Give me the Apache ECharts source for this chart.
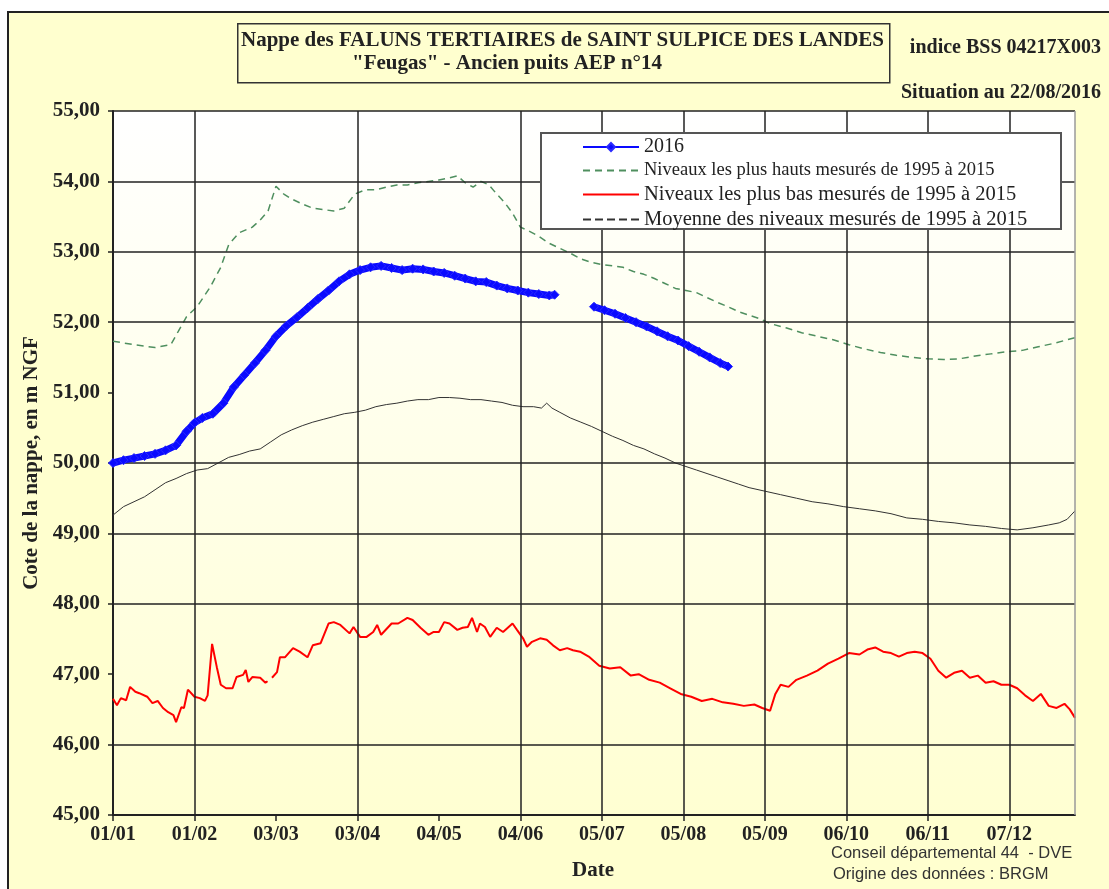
<!DOCTYPE html>
<html>
<head>
    <meta charset="utf-8">
    <title>Nappe des Faluns tertiaires</title>
    <script src="https://cdn.jsdelivr.net/npm/echarts@6/dist/echarts.min.js"></script>
    <style>
        body {
            margin: 0;
            background: #ffffff;
        }

        .frame {
            position: absolute;
            left: 7px;
            top: 11px;
            width: 1120px;
            height: 900px;
            background: #ffffcf;
            border-left: 2px solid #222;
            border-top: 2px solid #222;
        }

        #main {
            position: absolute;
            left: 0;
            top: 0;
            width: 1109px;
            height: 889px;
        }
    </style>
</head>
<body>
    <div class="frame"></div>
    <div id="main"></div>
<script type="text/javascript">
    // jours depuis le 01/01/2016 et cotes
    var days2016 = [0, 4, 8, 12, 16, 20, 24, 28, 31, 34, 38, 42, 46, 50, 54, 58, 62, 66, 70, 74, 78, 82, 86, 90, 94, 98, 102, 106, 110, 114, 118, 122, 126, 130, 134, 138, 142, 146, 150, 154, 158, 162, 166, 168, 175,
        183, 187, 191, 195, 199, 203, 207, 211, 215, 219, 223, 227, 231, 234];
    var vals2016 = [50.00, 50.04, 50.07, 50.10, 50.13, 50.18, 50.25, 50.45, 50.57, 50.64, 50.70, 50.85, 51.08, 51.25, 51.42, 51.60, 51.80, 51.95, 52.07, 52.20, 52.33, 52.45, 52.58, 52.68, 52.74, 52.78, 52.80, 52.77, 52.74, 52.76, 52.75, 52.72, 52.70, 52.66, 52.62, 52.58, 52.57, 52.52, 52.48, 52.45, 52.42, 52.40, 52.38, 52.39, null,
        52.22, 52.17, 52.12, 52.06, 52.00, 51.94, 51.87, 51.80, 51.74, 51.66, 51.58, 51.50, 51.42, 51.37];

    var daysMax = [0, 8, 16, 22, 25, 28, 32, 37, 41, 44, 48, 53, 56, 59, 62, 65, 68, 72, 76, 80, 84, 88, 92, 96, 100, 104, 108, 112, 116, 120, 124, 128, 131, 134, 137, 140, 143, 146, 149, 152, 155, 158, 162, 166, 170, 174, 178, 182, 186, 190, 194, 198, 202, 206, 210, 214, 218, 222, 226, 230, 234, 238, 242, 246, 250, 256, 262, 268, 274, 280, 286, 292, 298, 304, 310, 316, 322, 328, 334, 340, 346, 352, 358, 366];
    var valsMax = [51.73, 51.68, 51.64, 51.68, 51.88, 52.08, 52.22, 52.50, 52.78, 53.10, 53.27, 53.35, 53.45, 53.58, 53.93, 53.82, 53.75, 53.68, 53.62, 53.60, 53.58, 53.62, 53.82, 53.88, 53.88, 53.92, 53.95, 53.95, 53.98, 54.00, 54.02, 54.05, 54.08, 53.98, 53.92, 54.00, 53.95, 53.82, 53.70, 53.55, 53.35, 53.30, 53.22, 53.12, 53.05, 52.98, 52.90, 52.85, 52.82, 52.80, 52.78, 52.72, 52.68, 52.62, 52.55, 52.48, 52.45, 52.42, 52.35, 52.28, 52.22, 52.15, 52.10, 52.05, 51.98, 51.92, 51.85, 51.80, 51.75, 51.68, 51.62, 51.57, 51.53, 51.50, 51.48, 51.47, 51.48, 51.52, 51.55, 51.58, 51.60, 51.65, 51.70, 51.78];

    var daysMin = [0, 1.5, 3, 5, 6.5, 8.5, 10, 13, 15, 17, 19, 21, 23, 24, 26, 27, 28.5, 31, 33, 35, 36, 37.7, 39.5, 41, 43, 45.5, 47, 49.5, 50.5, 51.5, 53, 56, 58, 58.8, 59.6,
        60.5, 62.4, 63.5, 65.4, 68.5, 71, 74, 76, 79, 82, 84, 86.5, 90, 91.5, 94, 96.5, 99, 100.5, 102, 106, 108.5, 112, 114, 117, 120, 122, 124, 126, 128, 131, 133, 135, 136.6, 138.5, 139.6, 141.5, 143.5, 146, 148.4, 152, 153.7, 156, 157.5, 159.4, 162.5, 165, 167.4, 170, 172.8, 175, 177.7,
        181, 185, 189, 193, 197, 200, 204, 208, 212, 216, 220, 224, 228, 232, 236, 240, 244, 247, 250, 252, 254, 257, 260, 264, 268, 272, 276, 280, 284, 287, 290, 293, 296, 299, 302, 305, 308, 311, 314, 317, 320, 323, 326, 329, 332, 335, 338, 341, 344, 347, 350, 353, 356, 359, 362, 364, 366];
    var valsMin = [46.65, 46.56, 46.66, 46.63, 46.82, 46.75, 46.73, 46.68, 46.59, 46.62, 46.52, 46.46, 46.42, 46.32, 46.53, 46.52, 46.78, 46.68, 46.66, 46.62, 46.70, 47.43, 47.10, 46.85, 46.80, 46.80, 46.96, 46.99, 47.06, 46.89, 46.96, 46.95, 46.88, 46.90, null,
        46.95, 47.03, 47.24, 47.24, 47.37, 47.32, 47.24, 47.41, 47.44, 47.72, 47.74, 47.70, 47.58, 47.67, 47.53, 47.53, 47.60, 47.70, 47.56, 47.72, 47.72, 47.80, 47.77, 47.66, 47.56, 47.60, 47.60, 47.74, 47.72, 47.63, 47.66, 47.67, 47.80, 47.60, 47.72, 47.67, 47.53, 47.66, 47.60, 47.72, 47.63, 47.51, 47.39, 47.46, 47.51, 47.49, 47.41, 47.34, 47.37, 47.34, 47.32,
        47.25, 47.12, 47.08, 47.10, 46.98, 47.00, 46.92, 46.88, 46.80, 46.72, 46.68, 46.62, 46.65, 46.60, 46.58, 46.55, 46.57, 46.52, 46.48, 46.72, 46.85, 46.82, 46.92, 46.98, 47.05, 47.15, 47.22, 47.30, 47.28, 47.35, 47.38, 47.32, 47.30, 47.25, 47.30, 47.32, 47.30, 47.22, 47.05, 46.95, 47.02, 47.05, 46.95, 46.98, 46.88, 46.90, 46.85, 46.85, 46.80, 46.70, 46.62, 46.72, 46.55, 46.52, 46.58, 46.50, 46.38];

    var daysMoy = [0, 4, 8, 12, 16, 20, 24, 28, 32, 36, 40, 44, 48, 52, 56, 60, 64, 68, 72, 76, 80, 84, 88, 92, 96, 100, 104, 108, 112, 116, 120, 124, 128, 132, 136, 140, 144, 148, 152, 156, 160, 163, 165, 167, 170, 174, 178, 182, 186, 190, 194, 198, 202, 206, 210, 214, 218, 222, 226, 230, 234, 238, 242, 248, 254, 260, 266, 272, 278, 284, 290, 296, 302, 308, 314, 320, 326, 332, 338, 344, 350, 356, 360, 363, 366];
    var valsMoy = [49.26, 49.38, 49.45, 49.52, 49.62, 49.72, 49.78, 49.85, 49.90, 49.92, 50.00, 50.08, 50.12, 50.17, 50.20, 50.30, 50.40, 50.47, 50.53, 50.58, 50.62, 50.66, 50.70, 50.72, 50.75, 50.80, 50.83, 50.85, 50.88, 50.90, 50.90, 50.93, 50.93, 50.92, 50.90, 50.90, 50.88, 50.86, 50.82, 50.80, 50.80, 50.78, 50.85, 50.78, 50.72, 50.64, 50.58, 50.52, 50.45, 50.38, 50.32, 50.25, 50.20, 50.13, 50.07, 50.00, 49.95, 49.90, 49.85, 49.80, 49.75, 49.70, 49.65, 49.60, 49.55, 49.50, 49.45, 49.42, 49.38, 49.35, 49.32, 49.28, 49.22, 49.20, 49.17, 49.15, 49.12, 49.10, 49.07, 49.05, 49.08, 49.12, 49.15, 49.20, 49.32];

    // traits de grille visibles sur l'original
    var gridDays = [31, 93, 155, 186, 217, 248, 279, 310, 341];
    var gridLevels = [46, 48, 49, 50, 52, 53, 54, 55];

    var seriesNames = ['2016',
        'Niveaux les plus hauts mesurés de 1995 à 2015',
        'Niveaux les plus bas mesurés de 1995 à 2015',
        'Moyenne des niveaux mesurés de 1995 à 2015'];

    var serif = '"Liberation Serif", "Times New Roman", serif';
    var sans = '"Liberation Sans", Arial, sans-serif';

    function pairs(d, v) {
        var out = [];
        for (var i = 0; i < d.length; i++) {
            out.push([d[i], v[i]]);
        }
        return out;
    }

    // libellé jj/mm à partir du numéro de jour
    function dayLabel(v) {
        if (v > 360) return '';
        var dt = new Date(2016, 0, 1 + v);
        var dd = ('0' + dt.getDate()).slice(-2);
        var mm = ('0' + (dt.getMonth() + 1)).slice(-2);
        return dd + '/' + mm;
    }

    var gridMarks = [];
    gridDays.forEach(function (d) { gridMarks.push({ xAxis: d }); });
    gridLevels.forEach(function (v) { gridMarks.push({ yAxis: v }); });
    gridMarks.push({ xAxis: 366, lineStyle: { color: '#9a9a9a' } });

    var myChart = echarts.init(document.getElementById('main'), null, { renderer: 'canvas' });

    var option = {
        backgroundColor: 'transparent',
        animation: false,
        grid: {
            left: 113,
            right: 34,
            top: 111,
            bottom: 74,
            show: true,
            borderWidth: 0,
            backgroundColor: {
                type: 'linear', x: 0, y: 0, x2: 0, y2: 1,
                colorStops: [{ offset: 0, color: '#ffffff' }, { offset: 1, color: '#ffffd2' }]
            }
        },
        xAxis: {
            type: 'value',
            min: 0,
            max: 366,
            interval: 31,
            axisLine: { show: true, lineStyle: { color: '#222', width: 2 } },
            axisTick: { show: true, length: 6, lineStyle: { color: '#222', width: 1.5 } },
            axisLabel: {
                formatter: dayLabel,
                fontFamily: serif,
                fontWeight: 'bold',
                fontSize: 20,
                color: '#222',
                margin: 10,
                showMaxLabel: false
            },
            splitLine: { show: false }
        },
        yAxis: {
            type: 'value',
            min: 45,
            max: 55,
            interval: 1,
            name: 'Cote de la nappe, en m NGF',
            nameLocation: 'middle',
            nameGap: 70,
            nameRotate: 90,
            nameTextStyle: { fontFamily: serif, fontWeight: 'bold', fontSize: 21, color: '#222' },
            axisLine: { show: true, lineStyle: { color: '#222', width: 2 } },
            axisTick: { show: true, length: 5, lineStyle: { color: '#222', width: 1.5 } },
            axisLabel: {
                formatter: function (v) { return v.toFixed(2).replace('.', ','); },
                fontFamily: serif,
                fontWeight: 'bold',
                fontSize: 21,
                color: '#222',
                margin: 13
            },
            splitLine: { show: false }
        },
        legend: {
            orient: 'vertical',
            left: 582,
            top: 137,
            padding: 0,
            itemWidth: 56,
            itemHeight: 10,
            itemGap: 4,
            z: 12,
            textStyle: { fontFamily: serif, fontSize: 20.5, color: '#222' },
            data: [
                { name: seriesNames[0], textStyle: { fontSize: 20 } },
                { name: seriesNames[1], textStyle: { fontSize: 18.5 }, itemStyle: { opacity: 0 } },
                { name: seriesNames[2], itemStyle: { opacity: 0 } },
                { name: seriesNames[3], lineStyle: { type: 'dashed' }, itemStyle: { opacity: 0 } }
            ]
        },
        graphic: [
            {
                type: 'rect', left: 540, top: 132, z: 10,
                shape: { width: 520, height: 96 },
                style: { fill: '#ffffff', stroke: '#555', lineWidth: 2 }
            },
            {
                type: 'rect', left: 237, top: 23, z: 10,
                shape: { width: 652, height: 59 },
                style: { fill: 'transparent', stroke: '#333', lineWidth: 1.5 }
            },
            {
                type: 'text', left: 241, top: 30, z: 11,
                style: { text: 'Nappe des FALUNS TERTIAIRES de SAINT SULPICE DES LANDES', font: 'bold 21px ' + serif, fill: '#222' }
            },
            {
                type: 'text', left: 352, top: 53, z: 11,
                style: { text: '"Feugas" - Ancien puits AEP n°14', font: 'bold 21px ' + serif, fill: '#222' }
            },
            {
                type: 'text', right: 8, top: 38, z: 11,
                style: { text: 'indice BSS 04217X003', font: 'bold 20px ' + serif, fill: '#222' }
            },
            {
                type: 'text', right: 8, top: 83, z: 11,
                style: { text: 'Situation au 22/08/2016', font: 'bold 20px ' + serif, fill: '#222' }
            },
            {
                type: 'text', left: 572, top: 860, z: 11,
                style: { text: 'Date', font: 'bold 21px ' + serif, fill: '#222' }
            },
            {
                type: 'text', left: 831, top: 845, z: 11,
                style: { text: 'Conseil départemental 44  - DVE', font: '16.5px ' + sans, fill: '#333' }
            },
            {
                type: 'text', left: 833, top: 866, z: 11,
                style: { text: 'Origine des données : BRGM', font: '16.5px ' + sans, fill: '#333' }
            }
        ],
        series: [
            {
                name: 'grille',
                type: 'line',
                data: [],
                z: 1,
                markLine: {
                    silent: true,
                    symbol: 'none',
                    animation: false,
                    label: { show: false },
                    lineStyle: { color: '#222', width: 1.5, type: 'solid' },
                    data: gridMarks
                }
            },
            {
                name: seriesNames[0],
                type: 'line',
                data: pairs(days2016, vals2016),
                symbol: 'diamond',
                symbolSize: 9,
                showAllSymbol: true,
                connectNulls: false,
                z: 5,
                lineStyle: { color: '#0a0aff', width: 7 },
                itemStyle: { color: '#0a0aff', borderColor: '#2a2aff', borderWidth: 1 }
            },
            {
                name: seriesNames[1],
                type: 'line',
                data: pairs(daysMax, valsMax),
                symbol: 'none',
                z: 4,
                lineStyle: { color: '#4f8f5f', width: 1.5, type: [7, 5] },
                itemStyle: { color: '#4f8f5f' }
            },
            {
                name: seriesNames[2],
                type: 'line',
                data: pairs(daysMin, valsMin),
                symbol: 'none',
                connectNulls: false,
                z: 4,
                lineStyle: { color: '#ff0000', width: 2 },
                itemStyle: { color: '#ff0000' }
            },
            {
                name: seriesNames[3],
                type: 'line',
                data: pairs(daysMoy, valsMoy),
                symbol: 'none',
                z: 4,
                lineStyle: { color: '#333', width: 1 },
                itemStyle: { color: '#333' }
            }
        ]
    };
    myChart.setOption(option);
</script>
</body>
</html>
